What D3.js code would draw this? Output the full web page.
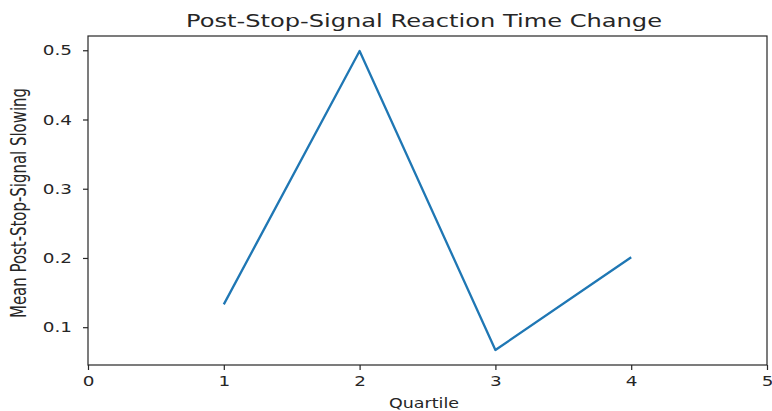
<!DOCTYPE html>
<html><head><meta charset="utf-8">
<script src="https://cdn.jsdelivr.net/npm/d3@7"></script>
<style>body{margin:0;background:#fff}svg{display:block}</style>
</head><body>
<svg id="c" width="772" height="411"></svg>
<script>
const quartiles = [1, 2, 3, 4];
const slowing = [0.133, 0.499, 0.067, 0.201];
const xTicks = [0, 1, 2, 3, 4, 5];
const yTicks = [0.1, 0.2, 0.3, 0.4, 0.5];
const titleText = "Post-Stop-Signal Reaction Time Change";
const xLabel = "Quartile";
const yLabel = "Mean Post-Stop-Signal Slowing";

const svg = d3.select("#c");
const L = 88, R = 767, T = 36, B = 365;
const SX = 1.27; // horizontal stretch of the original figure
const x = d3.scaleLinear().domain([0, 5]).range([L, R]);
const ext = d3.extent(slowing), pad = (ext[1] - ext[0]) * 0.05;
const y = d3.scaleLinear().domain([ext[0] - pad, ext[1] + pad]).range([B, T]);
const font = "DejaVu Sans";
const col = "#262626";

const xa = svg.append("g").attr("transform", `translate(0,${B})`)
  .call(d3.axisBottom(x).tickValues(xTicks).tickFormat(d3.format("d")).tickSizeOuter(0).tickSize(5).tickPadding(6));
const ya = svg.append("g").attr("transform", `translate(${L},0)`)
  .call(d3.axisLeft(y).tickValues(yTicks).tickFormat(d3.format(".1f")).tickSizeOuter(0).tickSize(5).tickPadding(11));
[xa, ya].forEach(a => {
  a.select(".domain").remove();
  a.selectAll("line").attr("stroke", col).attr("stroke-width", 1.2);
  a.selectAll("text").attr("fill", col).style("font-family", font).style("font-size", "14.5px")
    .each(function () {
      const t = d3.select(this);
      const tx = +t.attr("x") || 0, ty = +t.attr("y") || 0;
      t.attr("x", 0).attr("y", 0).attr("transform", `translate(${tx},${ty}) scale(${SX},1)`);
    });
});

svg.append("rect").attr("x", L).attr("y", T).attr("width", R - L).attr("height", B - T)
  .attr("fill", "none").attr("stroke", col).attr("stroke-width", 1.2);

svg.append("path").datum(quartiles.map((q, i) => [q, slowing[i]]))
  .attr("fill", "none").attr("stroke", "#1f77b4").attr("stroke-width", 2.3)
  .attr("stroke-linejoin", "round")
  .attr("d", d3.line().x(d => x(d[0])).y(d => y(d[1])));

svg.append("text").attr("x", 424).attr("y", 27).attr("text-anchor", "middle")
  .attr("textLength", 476).attr("lengthAdjust", "spacingAndGlyphs")
  .style("font-family", font).style("font-size", "18.5px").attr("fill", col).text(titleText);
svg.append("text").attr("x", 424).attr("y", 408).attr("text-anchor", "middle")
  .attr("textLength", 70).attr("lengthAdjust", "spacingAndGlyphs")
  .style("font-family", font).style("font-size", "14px").attr("fill", col).text(xLabel);
svg.append("text").attr("transform", `translate(26,203) scale(${SX},1) rotate(-90)`).attr("text-anchor", "middle")
  .attr("textLength", 230).attr("lengthAdjust", "spacingAndGlyphs")
  .style("font-family", font).style("font-size", "16px").attr("fill", col).text(yLabel);
</script>
</body></html>
